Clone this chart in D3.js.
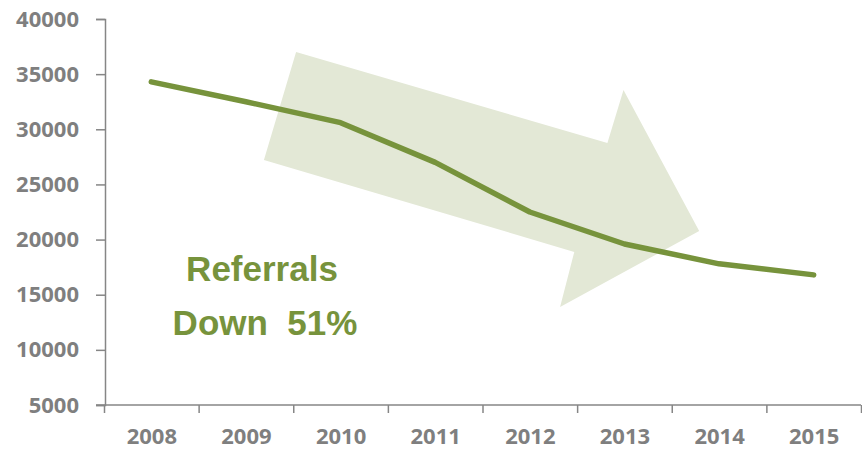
<!DOCTYPE html>
<html lang="en">
<head>
<meta charset="UTF-8">
<title>Referrals</title>
<script src="https://d3js.org/d3.v7.min.js"></script>
<style>
  body { margin: 0; background: #fff; }
  text { font-family: "Liberation Sans", Arial, sans-serif; font-weight: bold; }
  .tick text { font-family: "Open Sans", "Liberation Sans", sans-serif; }
</style>
</head>
<body>
<script>

// data
const years = ['2008', '2009', '2010', '2011', '2012', '2013', '2014', '2015'];
const referrals = [34300, 32500, 30600, 27000, 22500, 19600, 17800, 16800];
const yTicks = [5000, 10000, 15000, 20000, 25000, 30000, 35000, 40000];

// background arrow, in (year index, value) units
const arrowIdx = [1.53, 4.82, 4.99, 5.79, 4.32, 4.47, 1.19];
const arrowVal = [37010, 28760, 33560, 20780, 13890, 18880, 27220];

const W = 862, H = 453;
const plotL = 105, plotR = 861, plotT = 19, plotB = 405;
const green = '#77933c';
const grey = '#868686';

const svg = d3.select('body').append('svg')
    .attr('width', W)
    .attr('height', H);

const x = d3.scaleLinear().domain([-0.5, years.length - 0.5]).range([plotL - 1, plotR]);
const y = d3.scaleLinear().domain([5000, 40000]).range([plotB, plotT]);

// arrow
svg.append('polygon')
    .attr('points', arrowIdx.map((d, i) => [x(d), y(arrowVal[i])].join(',')).join(' '))
    .attr('fill', '#e3e8d6');

// y axis
const yAxis = svg.append('g')
    .attr('transform', `translate(${plotL},0)`)
    .call(d3.axisLeft(y).tickValues(yTicks).tickSize(9).tickPadding(17).tickFormat(d3.format('d')));

// x axis ticks at category boundaries
const xAxis = svg.append('g')
    .attr('transform', `translate(0,${plotB})`)
    .call(d3.axisBottom(x).tickValues(d3.range(-0.5, years.length, 1)).tickSize(8).tickFormat(''));

const xLabels = svg.append('g')
    .attr('transform', `translate(0,${plotB})`)
    .call(d3.axisBottom(x).tickValues(d3.range(years.length)).tickSize(0).tickPadding(23).tickFormat(i => years[i]));
xLabels.select('.domain').remove();

[yAxis, xAxis, xLabels].forEach(g => {
    g.selectAll('.domain, line').attr('stroke', grey).attr('stroke-width', 1.5);
    g.selectAll('text').attr('fill', '#7f7f7f').style('font-size', '22px');
});
xAxis.select('.domain').attr('d', `M${plotL - 9},0H${plotR}`);

// series line
svg.append('path')
    .datum(referrals)
    .attr('d', d3.line().x((d, i) => x(i)).y(d => y(d)))
    .attr('fill', 'none')
    .attr('stroke', green)
    .attr('stroke-width', 5.5)
    .attr('stroke-linecap', 'round')
    .attr('stroke-linejoin', 'round');

// annotation
const note = svg.append('text')
    .attr('fill', green)
    .attr('text-anchor', 'middle')
    .style('font-size', '35px')
    .style('white-space', 'pre');
note.append('tspan').attr('x', 262).attr('y', 281).text('Referrals');
note.append('tspan').attr('x', 265).attr('y', 335).text('Down  51%');

</script>
</body>
</html>
